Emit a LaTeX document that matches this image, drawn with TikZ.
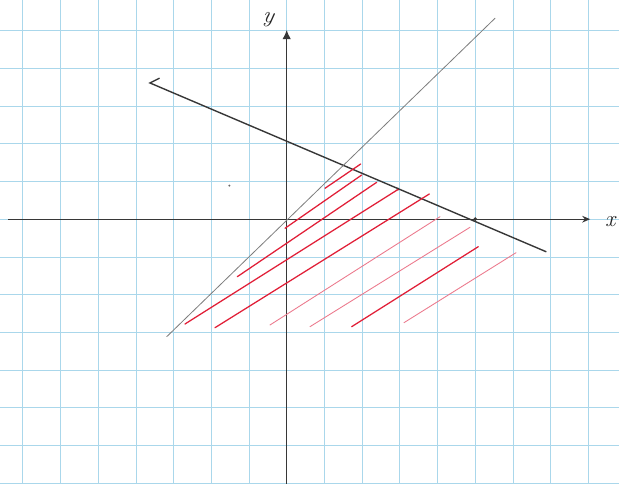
\documentclass[tikz,border=0pt]{standalone}
\usetikzlibrary{arrows.meta}
\definecolor{gridblue}{RGB}{170,215,235}
\definecolor{pencil}{RGB}{55,55,55}
\definecolor{lightpencil}{RGB}{125,125,125}
\definecolor{hatchred}{RGB}{225,30,55}
\definecolor{hatchpink}{RGB}{236,120,140}
\begin{document}
\begin{tikzpicture}[x=1cm,y=1cm,
  gridline/.style={draw=gridblue, line width=0.55pt},
  axisline/.style={draw=pencil, line width=0.95pt},
  boundline/.style={draw=pencil, line width=1.05pt, line cap=round},
  diagline/.style={draw=lightpencil, line width=0.6pt, line cap=round},
  hatchstrong/.style={draw=hatchred, line width=0.95pt, line cap=round},
  hatchlight/.style={draw=hatchpink, line width=0.65pt, line cap=round},
  axislabel/.style={font=\LARGE\itshape, text=black!85, inner sep=0pt},
  pdot/.style={circle, fill=pencil, inner sep=0pt, minimum size=3pt}]
\useasboundingbox[fill=white] (-7.605,-7.024) rectangle (8.814,5.814);
% grid paper
\foreach \i in {-7,...,8} \draw[gridline] (\i,-7.024) -- (\i,5.814);
\foreach \j in {-7,...,5} \draw[gridline] (-7.605,\j) -- (8.814,\j);
% axes
\coordinate (xl) at (-7.39,0);
\coordinate (xr) at (8.05,0);
\coordinate (yb) at (0,-7.1);
\coordinate (yt) at (0,5.02);
\draw[axisline, -{Stealth[length=6pt,width=5pt]}] (xl) -- (xr);
\draw[axisline, -{Latex[length=7pt,width=6.5pt]}] (yb) -- (yt);
\node[axislabel] (xlab) at (8.58,-0.05) {x};
\node[axislabel, rotate=-10] (ylab) at (-0.5,5.3) {y};
% decreasing boundary line
\coordinate (b1) at (-3.626,3.613);
\coordinate (b2) at (6.878,-0.862);
\coordinate (bt) at (-3.38,3.737);
\draw[boundline] (bt) -- (b1) -- (b2);
% line y = x
\coordinate (d1) at (-3.183,-3.117);
\coordinate (d2) at (5.525,5.329);
\draw[diagline] (d1) -- (d2);
% points
\node[pdot] (p1) at (5,0) {};
\node[pdot, minimum size=2.4pt] (p2) at (2.95,0.80) {};
\node[circle, fill=black!60, inner sep=0pt, minimum size=1.6pt] (p3) at (-1.52,0.89) {};
% hatching
\coordinate (a1) at (1.016,0.820);  \coordinate (a2) at (1.963,1.464);
\coordinate (c1) at (-0.045,-0.241); \coordinate (c2) at (1.989,1.172);
\coordinate (e1) at (-1.310,-1.525); \coordinate (e2) at (2.387,0.979);
\coordinate (f1) at (-2.698,-2.780); \coordinate (f2) at (2.952,0.788);
\coordinate (g1) at (-1.902,-2.878); \coordinate (g2) at (3.782,0.668);
\coordinate (h1) at (-0.443,-2.806); \coordinate (h2) at (4.066,0.066);
\coordinate (i1) at (0.618,-2.851);  \coordinate (i2) at (4.862,-0.215);
\coordinate (j1) at (1.724,-2.851);  \coordinate (j2) at (5.082,-0.729);
\coordinate (k1) at (3.111,-2.745);  \coordinate (k2) at (6.082,-0.889);
\draw[hatchstrong] (a1) -- (a2);
\draw[hatchstrong] (c1) -- (c2);
\draw[hatchstrong] (e1) -- (e2);
\draw[hatchstrong] (f1) -- (f2);
\draw[hatchstrong] (g1) -- (g2);
\draw[hatchlight] (h1) -- (h2);
\draw[hatchlight] (i1) -- (i2);
\draw[hatchstrong] (j1) -- (j2);
\draw[hatchlight] (k1) -- (k2);
\end{tikzpicture}
\end{document}
